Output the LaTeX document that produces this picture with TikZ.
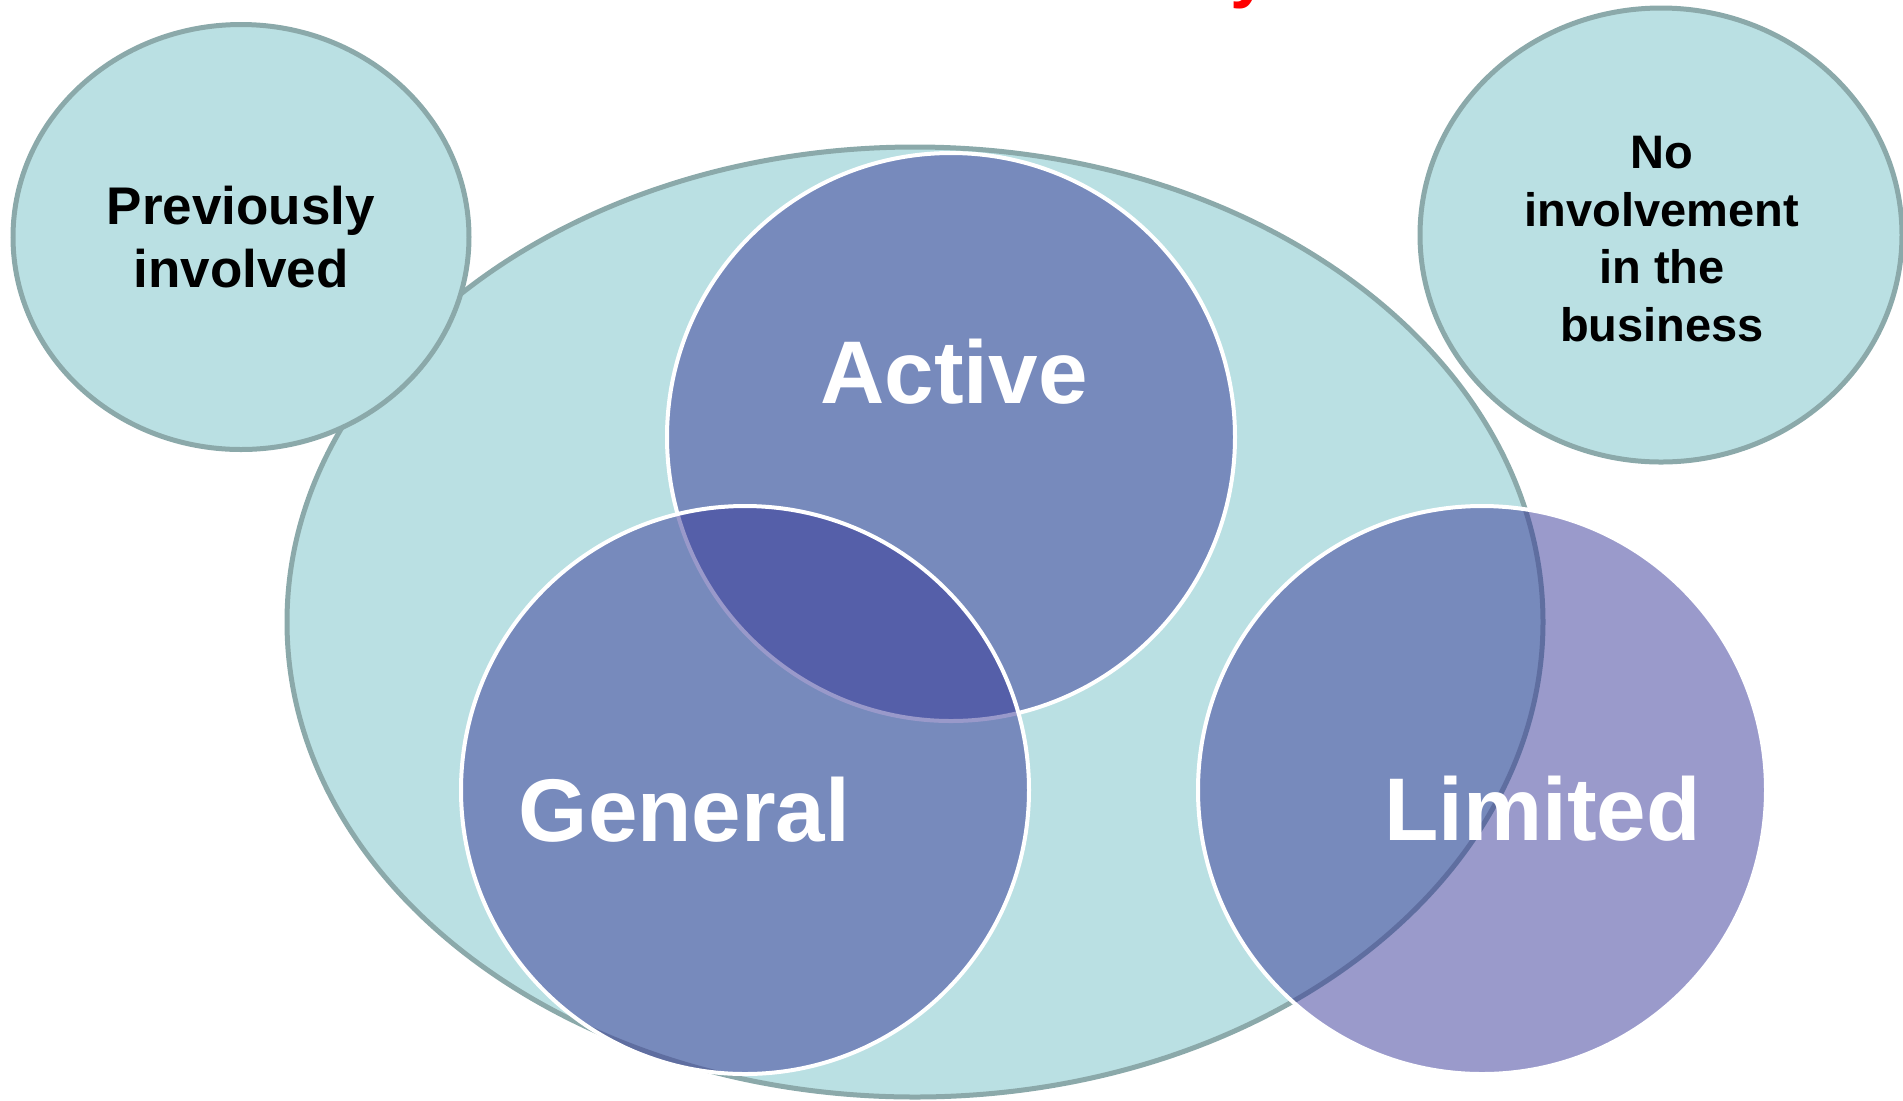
\documentclass[tikz,border=0pt]{standalone}
\usepackage{fontspec}
\setmainfont{Liberation Sans}
\usetikzlibrary{shapes.geometric}
\definecolor{tealfill}{RGB}{186,224,227}
\definecolor{tealline}{RGB}{139,169,170}
\definecolor{vennblue}{RGB}{53,53,151}
\definecolor{titlered}{RGB}{255,0,0}
\begin{document}
\begin{tikzpicture}[x=0.5pt,y=-0.5pt,
  bubble/.style={ellipse, draw=tealline, line width=2.5pt, fill=tealfill, inner sep=0pt},
  bubblelabel/.style={align=center, text=black, inner sep=0pt},
  venn/.style={circle, draw=white, line width=2pt, fill=vennblue, fill opacity=0.5, inner sep=0pt, minimum size=284pt},
  vennlabel/.style={text=white, font=\bfseries\fontsize{44.5}{50}\selectfont, inner sep=0pt, anchor=base}]
\useasboundingbox (0,0) rectangle (1903,1100);
% title fragment (cut off at the top edge)
\node[text=titlered, font=\bfseries\fontsize{35}{40}\selectfont, inner sep=0pt, anchor=base] (title) at (1250,-6) {y};
% outer ellipse
\node[bubble, minimum width=628pt, minimum height=475pt] (owners) at (915,622) {};
% side ellipses
\node[bubble, minimum width=228pt, minimum height=212.5pt] (prev) at (241,237) {};
\node[bubblelabel, font=\bfseries\fontsize{26.5}{31.5}\selectfont] (prevlbl) at (prev.center) {Previously\\involved};
\node[bubble, minimum width=241pt, minimum height=227pt] (noinv) at (1661,235) {};
\node[bubblelabel, font=\bfseries\fontsize{23.5}{28.8}\selectfont] (noinvlbl) at (1662,239) {No\\involvement\\in the\\business};
% venn circles
\node[venn] (active) at (951,437) {};
\node[venn] (general) at (745,790) {};
\node[venn] (limited) at (1482,790) {};
% labels
\node[vennlabel] (activelbl) at (954,403) {Active};
\node[vennlabel] (generallbl) at (684.5,841) {General};
\node[vennlabel] (limitedlbl) at (1542.5,840) {Limited};
\end{tikzpicture}
\end{document}
